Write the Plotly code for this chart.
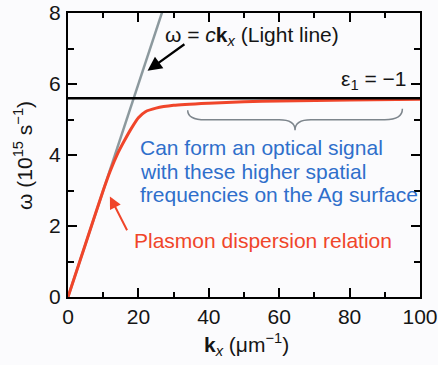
import plotly.graph_objects as go

# ---- data ----
plasmon_k = [0, 5, 10, 12, 14, 16, 18, 20, 22, 25, 30, 40, 50, 60, 80, 100]
plasmon_w = [0, 1.5, 3.0, 3.55, 4.02, 4.4, 4.75, 5.05, 5.22, 5.32, 5.4, 5.46, 5.5, 5.52, 5.55, 5.57]
light_k = [0, 30]
light_w = [0, 9.0]
eps_k = [0, 100]
eps_w = [5.6, 5.6]
x_ticks = [0, 20, 40, 60, 80, 100]
y_ticks = [0, 2, 4, 6, 8]
blue_lines = ["Can form an optical signal", "with these higher spatial", "frequencies on the Ag surface"]
blue_line_y = [4.2, 3.54, 2.88]

FONT = "Liberation Sans, Arial, sans-serif"
RED = "#f0452a"
GRAY = "#8c999e"
BLUE = "#2f6fcb"
INK = "#151515"
FS = 21

fig = go.Figure()
fig.add_trace(go.Scatter(x=light_k, y=light_w, mode="lines",
                         line=dict(color=GRAY, width=2.5), hoverinfo="skip"))
fig.add_trace(go.Scatter(x=plasmon_k, y=plasmon_w, mode="lines",
                         line=dict(color=RED, width=3, shape="spline", smoothing=0.6), hoverinfo="skip"))
fig.add_trace(go.Scatter(x=eps_k, y=eps_w, mode="lines",
                         line=dict(color="black", width=2.5), hoverinfo="skip"))

axis_common = dict(showline=True, linewidth=2, linecolor="black", mirror="ticks",
                   ticks="inside", ticklen=9, tickwidth=2, tickcolor="black",
                   showgrid=False, zeroline=False, automargin=False,
                   tickfont=dict(family=FONT, size=FS, color=INK))

fig.update_xaxes(range=[0, 100], tickvals=x_ticks, ticklabelstandoff=0,
                 minor=dict(dtick=10, tick0=0, ticks="inside", ticklen=5, tickwidth=2, tickcolor="black"),
                 **axis_common)
fig.update_yaxes(range=[0, 8], tickvals=y_ticks, ticklabelstandoff=1,
                 minor=dict(dtick=1, tick0=0, ticks="inside", ticklen=6, tickwidth=2, tickcolor="black"),
                 **axis_common)

# axis titles
fig.add_annotation(x=0.506, y=-0.169, xref="paper", yref="paper", xanchor="center", yanchor="middle",
                   text="<b>k</b><sub><i>x</i></sub> (μm<sup>−1</sup>)", showarrow=False,
                   font=dict(family=FONT, size=FS, color=INK))
fig.add_annotation(x=-0.128, y=0.5, xref="paper", yref="paper", xanchor="center", yanchor="middle",
                   text="ω (10<sup>15</sup> s<sup>−1</sup>)", textangle=-90, showarrow=False,
                   font=dict(family=FONT, size=FS, color=INK))

# brace
fig.add_shape(type="path",
              path="M 34,5.26 Q 34,4.99 39,4.99 L 60,4.99 Q 64.5,4.99 64.5,4.7 "
                   "Q 64.5,4.99 69,4.99 L 90,4.99 Q 95,4.99 95,5.3",
              line=dict(color="#7d858c", width=1.5))

# annotations
fig.add_annotation(x=22.6, y=6.37, ax=33.5, ay=7.15, xref="x", yref="y", axref="x", ayref="y",
                   showarrow=True, arrowhead=2, arrowsize=1.3, arrowwidth=2.2, arrowcolor="black", text="")
fig.add_annotation(x=27.0, y=7.35, xref="x", yref="y", xanchor="left", yanchor="middle",
                   text="ω = <i>c</i><b>k</b><sub><i>x</i></sub> (Light line)", showarrow=False,
                   font=dict(family=FONT, size=FS, color=INK))
fig.add_annotation(x=96.5, y=6.1, xref="x", yref="y", xanchor="right", yanchor="middle",
                   text="ε<sub>1</sub> = −1", showarrow=False,
                   font=dict(family=FONT, size=FS, color=INK))
for txt, yy in zip(blue_lines, blue_line_y):
    fig.add_annotation(x=20.0, y=yy, xref="x", yref="y", xanchor="left", yanchor="middle", align="left",
                       text=txt, showarrow=False, font=dict(family=FONT, size=FS, color=BLUE))
fig.add_annotation(x=11.9, y=2.83, ax=17.0, ay=1.84, xref="x", yref="y", axref="x", ayref="y",
                   showarrow=True, arrowhead=2, arrowsize=1.2, arrowwidth=2, arrowcolor=RED, text="")
fig.add_annotation(x=18.3, y=1.6, xref="x", yref="y", xanchor="left", yanchor="middle",
                   text="Plasmon dispersion relation", showarrow=False,
                   font=dict(family=FONT, size=FS, color=RED))

fig.update_layout(width=438, height=365, margin=dict(l=68, r=18, t=13, b=68),
                  paper_bgcolor="#fbfbfd", plot_bgcolor="#fbfbfd", showlegend=False)

fig.write_html("out.html", config={"displayModeBar": False},
               post_script="document.body.style.margin='0';document.body.style.background='#fbfbfd';")
